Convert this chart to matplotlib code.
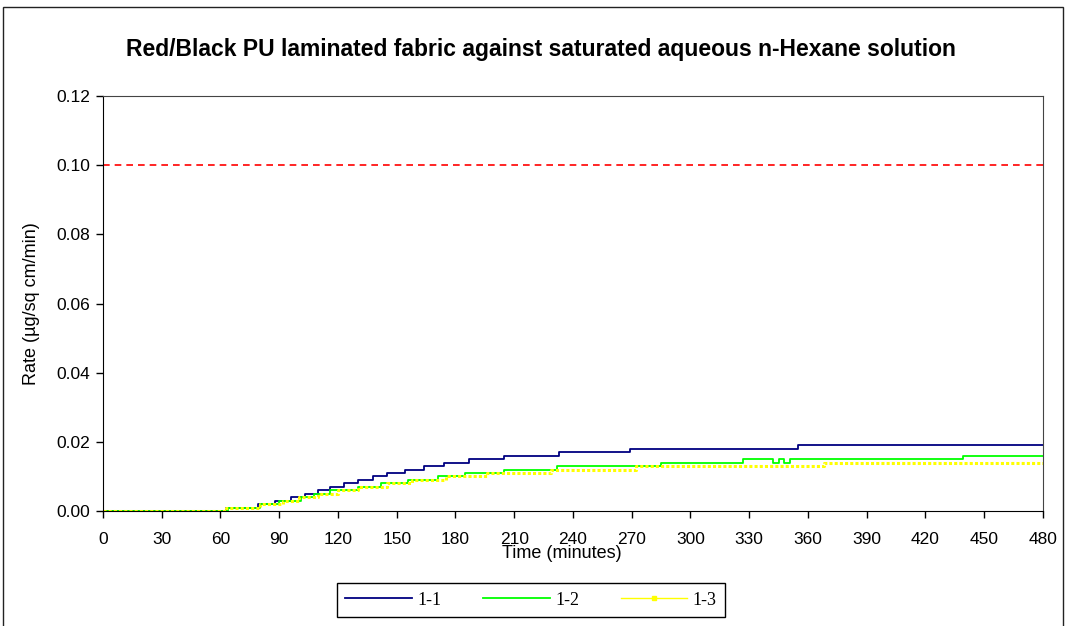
import matplotlib
matplotlib.use("Agg")
import matplotlib.pyplot as plt
from matplotlib.lines import Line2D
from matplotlib.patches import Rectangle

# step points (time in minutes, rate in ug/sq cm/min)
t_11 = [0, 63, 79, 88, 96, 103, 110, 116, 123, 130, 138, 145, 154, 164, 174, 187, 205, 233, 269, 355, 480]
v_11 = [0.000, 0.001, 0.002, 0.003, 0.004, 0.005, 0.006, 0.007, 0.008, 0.009, 0.010,
        0.011, 0.012, 0.013, 0.014, 0.015, 0.016, 0.017, 0.018, 0.019, 0.019]

t_12 = [0, 64, 80, 90, 101, 108, 116, 130, 142, 156, 171, 185, 205, 232, 285, 327, 342, 345, 348, 351, 439, 480]
v_12 = [0.000, 0.001, 0.002, 0.003, 0.004, 0.005, 0.006, 0.007, 0.008, 0.009, 0.010,
        0.011, 0.012, 0.013, 0.014, 0.015, 0.014, 0.015, 0.014, 0.015, 0.016, 0.016]

t_13 = [0, 63, 80, 92, 100, 110, 120, 130, 145, 158, 175, 196, 229, 272, 368, 480]
v_13 = [0.000, 0.001, 0.002, 0.003, 0.004, 0.005, 0.006, 0.007, 0.008, 0.009, 0.010,
        0.011, 0.012, 0.013, 0.014, 0.014]

limit_t = [0, 480]
limit_v = [0.10, 0.10]

x_ticks = list(range(0, 481, 30))
y_ticks = [0.00, 0.02, 0.04, 0.06, 0.08, 0.10, 0.12]

fig = plt.figure(figsize=(10.66, 6.26), dpi=100)
ax = fig.add_axes([0.0966, 0.1837, 0.8817, 0.6629])

# chart area border
fig.patches.append(Rectangle((3 / 1066, -0.05), 1060 / 1066, 1 - 7 / 626 + 0.05,
                             transform=fig.transFigure, fill=False,
                             edgecolor='#222222', linewidth=1.0))

ax.plot(limit_t, limit_v, color='red', linestyle=(0, (4, 3)), linewidth=1.2)
ax.plot(t_11, v_11, color='#000080', linewidth=1.3, drawstyle='steps-post')
ax.plot(t_12, v_12, color='#00ff00', linewidth=1.3, drawstyle='steps-post')
ax.plot(t_13, v_13, color='#ffff00', linewidth=2.2, linestyle=(0, (1.0, 0.7)),
        drawstyle='steps-post')

ax.set_xlim(0, 480)
ax.set_ylim(0, 0.12)
ax.set_xticks(x_ticks)
ax.set_yticks(y_ticks)
ax.set_yticklabels([f'{v:.2f}' for v in y_ticks])

for lab in ax.get_xticklabels() + ax.get_yticklabels():
    lab.set_fontfamily('Liberation Sans')
    lab.set_fontsize(12.5)
ax.tick_params(direction='out', length=5, width=1, color='black')
ax.tick_params(axis='x', pad=10)
ax.tick_params(axis='y', pad=4)

for side in ['left', 'bottom']:
    ax.spines[side].set_color('black')
for side in ['top', 'right']:
    ax.spines[side].set_color('#444444')

ax.set_title('Red/Black PU laminated fabric against saturated aqueous n-Hexane solution',
             fontfamily='Liberation Sans', fontweight='bold', fontsize=16.5, pad=29,
             x=0.466)
ax.set_xlabel('Time (minutes)', fontfamily='Liberation Sans', fontsize=13)
ax.xaxis.set_label_coords(0.488, -0.082)
ax.set_ylabel('Rate (µg/sq cm/min)', fontfamily='Liberation Sans', fontsize=13)
ax.yaxis.set_label_coords(-0.067, 0.5)

handles = [Line2D([], [], color='#000080', linewidth=1.3),
           Line2D([], [], color='#00ff00', linewidth=1.3),
           Line2D([], [], color='#ffff00', linewidth=1.0, marker='s', markersize=2.5,
                  markevery=[1])]
fig.legend(handles, ['1-1', '1-2', '1-3'], loc='center', bbox_to_anchor=(0.498, 0.0415),
           ncol=3, frameon=True, fancybox=False, edgecolor='black', framealpha=1,
           prop={'family': 'Liberation Serif', 'size': 13}, handlelength=3.7,
           handletextpad=0.3, columnspacing=2.3, borderpad=0.45)

fig.savefig('out.png', dpi=100)
